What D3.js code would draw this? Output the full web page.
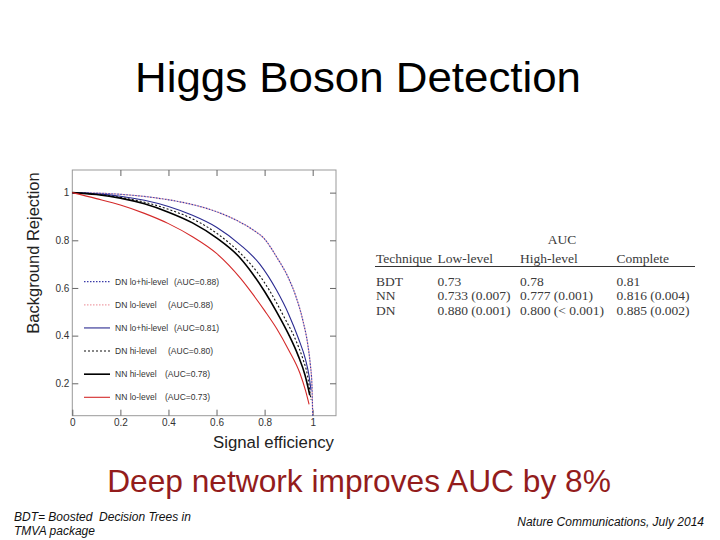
<!DOCTYPE html>
<html>
<head>
<meta charset="utf-8">
<script src="https://d3js.org/d3.v7.min.js"></script>
<style>
  body { margin: 0; background: #fff; }
  svg { display: block; }
</style>
</head>
<body>
<div class="slide"></div>
<script>
// ROC curves: [signal efficiency, background rejection]
const dnLoHi = [[0,1],[0.1,0.998],[0.2,0.993],[0.3,0.984],[0.4,0.97],[0.5,0.95],[0.6,0.92],[0.7,0.875],[0.75,0.845],[0.8,0.805],[0.85,0.73],[0.9,0.64],[0.93,0.565],[0.96,0.46],[0.98,0.36],[0.99,0.28],[0.997,0.19],[1.0,0.064]];
const dnLo   = [[0,1],[0.1,0.998],[0.2,0.993],[0.3,0.984],[0.4,0.97],[0.5,0.95],[0.6,0.92],[0.7,0.875],[0.75,0.845],[0.8,0.805],[0.85,0.73],[0.9,0.64],[0.93,0.565],[0.96,0.46],[0.98,0.36],[0.99,0.28],[0.997,0.19],[1.0,0.064]];
const nnLoHi = [[0,1],[0.1,0.995],[0.2,0.985],[0.3,0.968],[0.4,0.942],[0.5,0.905],[0.6,0.855],[0.7,0.78],[0.78,0.70],[0.85,0.59],[0.9,0.49],[0.94,0.39],[0.97,0.30],[0.985,0.23],[0.993,0.17]];
const dnHi   = [[0,1],[0.1,0.993],[0.2,0.98],[0.3,0.96],[0.4,0.93],[0.5,0.89],[0.6,0.83],[0.7,0.745],[0.77,0.665],[0.82,0.59],[0.88,0.48],[0.93,0.38],[0.96,0.30],[0.978,0.235],[0.993,0.13]];
const nnHi   = [[0,1],[0.1,0.992],[0.2,0.977],[0.3,0.953],[0.4,0.918],[0.5,0.873],[0.6,0.81],[0.7,0.724],[0.75,0.66],[0.8,0.585],[0.85,0.5],[0.9,0.405],[0.94,0.315],[0.968,0.235],[0.988,0.15]];
const nnLo   = [[0,1],[0.1,0.975],[0.2,0.948],[0.3,0.913],[0.4,0.87],[0.5,0.815],[0.6,0.745],[0.7,0.64],[0.75,0.575],[0.8,0.505],[0.85,0.43],[0.9,0.34],[0.947,0.242],[0.97,0.17],[0.985,0.112]];

const legendNames = ["DN lo+hi-level", "DN lo-level", "NN lo+hi-level", "DN hi-level", "NN hi-level", "NN lo-level"];
const legendAucs  = ["(AUC=0.88)", "(AUC=0.88)", "(AUC=0.81)", "(AUC=0.80)", "(AUC=0.78)", "(AUC=0.73)"];

const xTicks = [0, 0.2, 0.4, 0.6, 0.8, 1];
const yTicks = [0.2, 0.4, 0.6, 0.8, 1];

// AUC table
const tableHeader = ["Technique", "Low-level", "High-level", "Complete"];
const tableRows = [
  ["BDT", "0.73", "0.78", "0.81"],
  ["NN", "0.733 (0.007)", "0.777 (0.001)", "0.816 (0.004)"],
  ["DN", "0.880 (0.001)", "0.800 (< 0.001)", "0.885 (0.002)"]
];

const W = 720, H = 540;
const svg = d3.select(".slide").append("svg")
  .attr("width", W)
  .attr("height", H);

// title
svg.append("text")
  .attr("x", 358).attr("y", 92)
  .attr("text-anchor", "middle")
  .attr("font-family", "Liberation Sans, Arial, sans-serif")
  .attr("font-size", 42)
  .attr("textLength", 446)
  .attr("lengthAdjust", "spacingAndGlyphs")
  .text("Higgs Boson Detection");

// plot
const x = d3.scaleLinear().domain([0, 1.097]).range([72.3, 336]);
const y = d3.scaleLinear().domain([0.064, 1.095]).range([415.7, 170]);

const plot = svg.append("g").attr("class", "plot");

plot.append("rect")
  .attr("x", x(0)).attr("y", y(1.095))
  .attr("width", x(1.097) - x(0))
  .attr("height", y(0.064) - y(1.095))
  .attr("fill", "none")
  .attr("stroke", "#999")
  .attr("stroke-width", 1);

const tickFont = "Liberation Sans, Arial, sans-serif";

function styleAxis(g) {
  g.select(".domain").remove();
  g.selectAll(".tick line").attr("stroke", "#666");
  g.selectAll(".tick text")
    .attr("font-family", tickFont)
    .attr("font-size", 10)
    .attr("fill", "#333");
}

plot.append("g")
  .attr("transform", `translate(0,${y(0.064)})`)
  .call(d3.axisBottom(x).tickValues(xTicks).tickSize(-6).tickPadding(3).tickFormat(d3.format("")))
  .call(styleAxis);

plot.append("g")
  .attr("transform", `translate(0,${y(1.095)})`)
  .call(d3.axisTop(x).tickValues(xTicks.slice(1)).tickSize(-6).tickFormat(""))
  .call(styleAxis);

plot.append("g")
  .attr("transform", `translate(${x(0)},0)`)
  .call(d3.axisLeft(y).tickValues(yTicks).tickSize(-6).tickPadding(3).tickFormat(d3.format("")))
  .call(styleAxis);

plot.append("g")
  .attr("transform", `translate(${x(1.097)},0)`)
  .call(d3.axisRight(y).tickValues(yTicks).tickSize(-6).tickFormat(""))
  .call(styleAxis);

// axis titles
svg.append("text")
  .attr("transform", "translate(39,253) rotate(-90)")
  .attr("text-anchor", "middle")
  .attr("font-family", tickFont)
  .attr("font-size", 16.5)
  .attr("fill", "#222")
  .text("Background Rejection");

svg.append("text")
  .attr("x", 334).attr("y", 448)
  .attr("text-anchor", "end")
  .attr("font-family", tickFont)
  .attr("font-size", 16.8)
  .attr("fill", "#222")
  .text("Signal efficiency");

// curves
const series = [
  { data: dnLo,   color: "#f0a0a8", width: 1.2, dash: "1.5,1.5", offset: 1.5 },
  { data: dnLoHi, color: "#3b3ba8", width: 1.2, dash: "1.5,1.5", offset: 0 },
  { data: nnLoHi, color: "#2a2a90", width: 1.1, dash: null, offset: 0 },
  { data: dnHi,   color: "#111",    width: 1.1, dash: "2,2", offset: 0 },
  { data: nnHi,   color: "#000",    width: 1.6, dash: null, offset: 0 },
  { data: nnLo,   color: "#d42a2a", width: 1.1, dash: null, offset: 0 }
];

const line = d3.line()
  .x(d => x(d[0]))
  .y(d => y(d[1]))
  .curve(d3.curveMonotoneX);

plot.append("g")
  .attr("class", "curves")
  .selectAll("path")
  .data(series)
  .enter().append("path")
  .attr("d", d => line(d.data))
  .attr("fill", "none")
  .attr("stroke", d => d.color)
  .attr("stroke-width", d => d.width)
  .attr("stroke-dasharray", d => d.dash)
  .attr("stroke-dashoffset", d => d.offset);

// legend, same order as the picture
const legendStyle = [series[1], series[0], series[2], series[3], series[4], series[5]];
const legendY = d3.scalePoint().domain(d3.range(6)).range([281.7, 397.3]);
const aucX = [174, 168, 174, 168, 165, 165];

const legend = plot.append("g").attr("class", "legend");
legendNames.forEach((name, i) => {
  const s = legendStyle[i];
  const ly = legendY(i);
  legend.append("line")
    .attr("x1", 84).attr("x2", 110)
    .attr("y1", ly).attr("y2", ly)
    .attr("stroke", s.color)
    .attr("stroke-width", s.width)
    .attr("stroke-dasharray", s.dash);
  legend.append("text")
    .attr("x", 115).attr("y", ly + 3)
    .attr("font-family", tickFont)
    .attr("font-size", 8.5)
    .attr("fill", "#333")
    .text(name);
  legend.append("text")
    .attr("x", aucX[i]).attr("y", ly + 3)
    .attr("font-family", tickFont)
    .attr("font-size", 8.5)
    .attr("fill", "#333")
    .text(legendAucs[i]);
});

// table
const serif = "Liberation Serif, DejaVu Serif, serif";
const colX = [376, 437.5, 520, 616.5];
const rowY = [286, 300, 314.5];
const table = svg.append("g").attr("class", "table")
  .attr("font-family", serif)
  .attr("font-size", 13.5)
  .attr("fill", "#3a3a3a");

table.append("text")
  .attr("x", 562).attr("y", 243.5)
  .attr("text-anchor", "middle")
  .text("AUC");

table.selectAll(".head")
  .data(tableHeader)
  .enter().append("text")
  .attr("class", "head")
  .attr("x", (d, i) => colX[i])
  .attr("y", 262.5)
  .text(d => d);

table.append("line")
  .attr("x1", 375).attr("x2", 695)
  .attr("y1", 266.5).attr("y2", 266.5)
  .attr("stroke", "#333")
  .attr("stroke-width", 1);

tableRows.forEach((row, r) => {
  table.selectAll(".row" + r)
    .data(row)
    .enter().append("text")
    .attr("class", "row" + r)
    .attr("x", (d, i) => colX[i])
    .attr("y", rowY[r])
    .text(d => d);
});

// headline
svg.append("text")
  .attr("x", 359).attr("y", 492)
  .attr("text-anchor", "middle")
  .attr("font-family", tickFont)
  .attr("font-size", 31.7)
  .attr("fill", "#931c1c")
  .text("Deep network improves AUC by 8%");

// footnotes
const foot = svg.append("g")
  .attr("font-family", tickFont)
  .attr("font-size", 12)
  .attr("font-style", "italic")
  .attr("fill", "#111");

foot.append("text").attr("x", 14).attr("y", 521).text("BDT= Boosted \u00a0Decision Trees in");
foot.append("text").attr("x", 14).attr("y", 535).text("TMVA package");
foot.append("text").attr("x", 704).attr("y", 526).attr("text-anchor", "end").text("Nature Communications, July 2014");
</script>
</body>
</html>
